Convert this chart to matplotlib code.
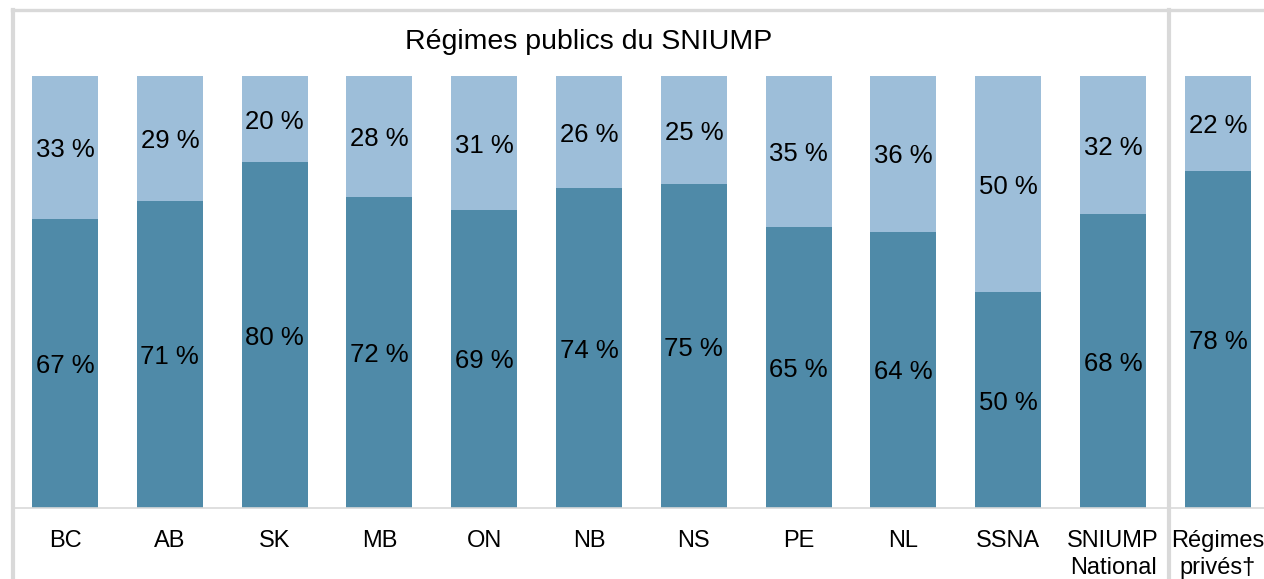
import matplotlib.pyplot as plt
import matplotlib.transforms as mtransforms

plt.rcParams['font.family'] = ['Liberation Sans', 'DejaVu Sans']

# data
categories = ['BC', 'AB', 'SK', 'MB', 'ON', 'NB', 'NS', 'PE', 'NL', 'SSNA',
              'SNIUMP\nNational', 'Régimes\nprivés†']
dark_vals = [67, 71, 80, 72, 69, 74, 75, 65, 64, 50, 68, 78]
light_vals = [33, 29, 20, 28, 31, 26, 25, 35, 36, 50, 32, 22]
title = 'Régimes publics du SNIUMP'

dark_color = '#4f8aa8'
light_color = '#9dbed9'
border_color = '#d9d9d9'

fig = plt.figure(figsize=(12.64, 5.79), dpi=100)
ax = fig.add_axes([12 / 1264, (579 - 508) / 579, 1 - 12 / 1264, 498 / 579])

x = list(range(len(categories)))
width = 0.63
ax.bar(x, dark_vals, width=width, color=dark_color, zorder=2)
ax.bar(x, light_vals, width=width, bottom=dark_vals, color=light_color, zorder=2)

# value labels in the middle of each segment (nudged down a couple of pixels)
nudge = mtransforms.offset_copy(ax.transData, fig=fig, x=0, y=-2.5, units='dots')
for i, (d, l) in enumerate(zip(dark_vals, light_vals)):
    ax.text(i, d / 2, f'{d} %', ha='center', va='center', fontsize=18.5,
            color='black', zorder=3, transform=nudge)
    ax.text(i, d + l / 2, f'{l} %', ha='center', va='center', fontsize=18.5,
            color='black', zorder=3, transform=nudge)

ax.set_xlim(-0.506, 11.44)
ax.set_ylim(0, 115.3)

ax.set_xticks(x)
ax.set_xticklabels(categories, fontsize=17, linespacing=1.3)
ax.tick_params(axis='x', length=0, pad=15.5)
ax.set_yticks([])

# title over the public plans panel
ax.text(5, 107.8, title, ha='center', va='center', fontsize=20.5)

# frame lines
ax.spines['right'].set_visible(False)
ax.spines['left'].set_visible(False)
ax.spines['top'].set_color(border_color)
ax.spines['top'].set_linewidth(2.4)
ax.spines['bottom'].set_color(border_color)
ax.spines['bottom'].set_linewidth(1.2)

ax.axvline(-0.506 + 0.5 / 104.8, ymin=-0.2, ymax=1, color=border_color, lw=3, clip_on=False)
ax.axvline(10.5 + 4 / 104.8, ymin=-0.2, ymax=1, color=border_color, lw=3, clip_on=False)

fig.savefig('out.png', dpi=100)
